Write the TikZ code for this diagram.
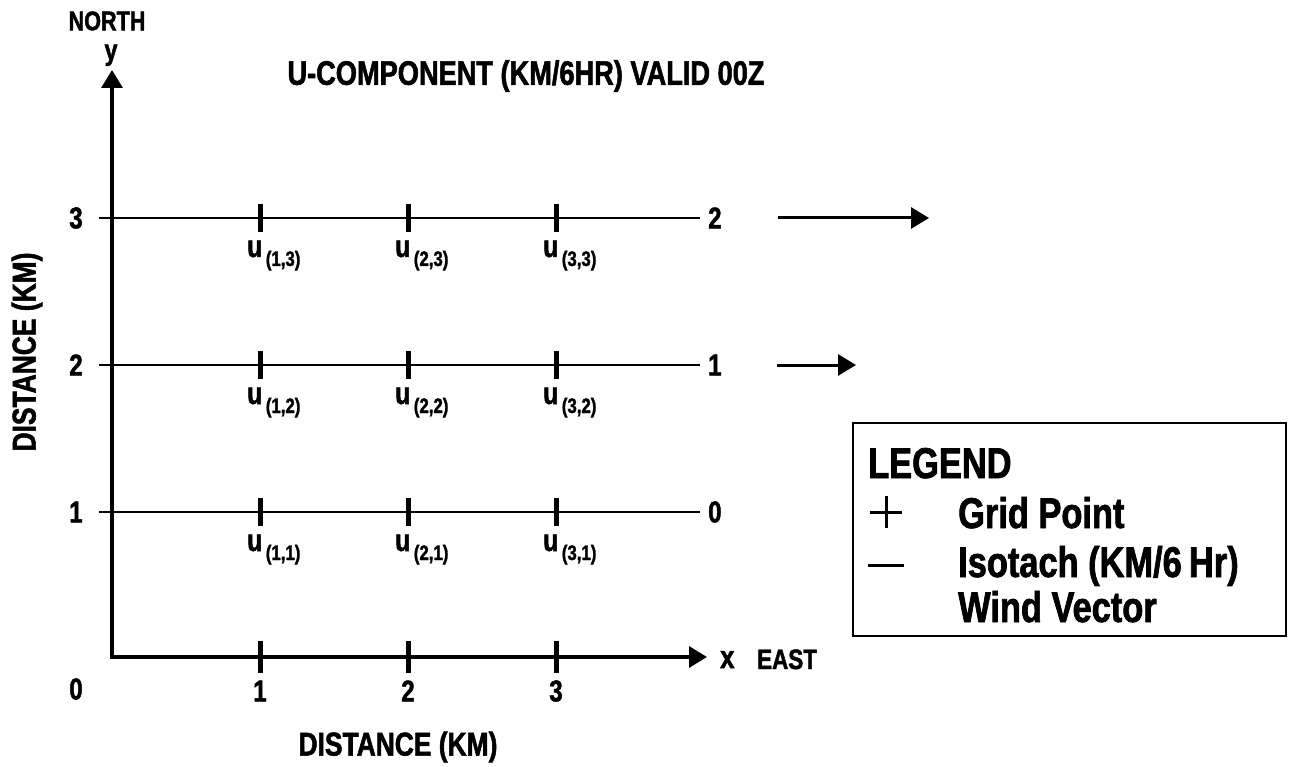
\documentclass[tikz,border=0pt]{standalone}
\usepackage{fontspec}
\setmainfont[FakeStretch=0.8,FakeBold=1.6]{Liberation Sans}
\usepackage{tikz}
\usetikzlibrary{arrows.meta}

\newcommand{\fsz}[1]{\fontsize{#1}{#1}\selectfont}

\tikzset{
    axisline/.style={line width=3.3pt,{Triangle[length=18pt,width=21pt]}-{Triangle[length=18pt,width=21pt]}},
    isoline/.style={line width=2.9pt},
    gridtick/.style={line width=5pt},
    windvec/.style={line width=3pt,-{Triangle[length=18pt,width=21pt]}},
    lbl/.style={font=\bfseries\fsz{30},inner sep=0pt},
    ulbl/.style={font=\bfseries\fsz{31},inner sep=0pt,anchor=base west},
}

\begin{document}
\begin{tikzpicture}[x=1pt,y=-1pt]
    \useasboundingbox (0,0) rectangle (1292,767);

    % axes
    \coordinate (ytip) at (112,70);
    \coordinate (xtip) at (707,657);
    \draw[axisline] (ytip) |- (xtip);
    \node[lbl,font=\bfseries\fsz{27}] (north) at (107,21) {NORTH};
    \node[lbl,font=\bfseries\fsz{29},anchor=base] (ylab) at (111,60) {y};
    \node[lbl,font=\bfseries\fsz{32},anchor=base west] (xlab) at (720,668) {x};
    \node[lbl,font=\bfseries\fsz{28},anchor=base west] (east) at (757,669) {EAST};
    \node[lbl,font=\bfseries\fsz{33},rotate=90] (ydist) at (27,352) {DISTANCE (KM)};
    \node[lbl,font=\bfseries\fsz{33}] (xdist) at (398,747) {DISTANCE (KM)};
    \node[lbl,font=\bfseries\fsz{34}] (title) at (526,76) {U-COMPONENT (KM/6HR) VALID 00Z};
    \node[lbl] (zero) at (76,689) {0};

    % ticks on the x axis
    \foreach \c/\xx in {1/260,2/408,3/556}{
        \coordinate (xt\c) at (\xx,657);
        \draw[gridtick] ([yshift=16pt]xt\c) -- ([yshift=-16pt]xt\c);
        \node[lbl] (xn\c) at (\xx,691) {\c};
    }

    % isotachs with grid points
    \foreach \r/\yy/\v in {1/512/0,2/365/1,3/218/2}{
        \coordinate (w\r) at (99,\yy);
        \coordinate (e\r) at (700,\yy);
        \draw[isoline] (w\r) -- (e\r);
        \node[lbl] (yn\r) at (76,\yy) {\r};
        \node[lbl,anchor=west] (iso\r) at (708,\yy) {\v};
        \foreach \c/\xx in {1/260,2/408,3/556}{
            \coordinate (g\c\r) at (\xx,\yy);
            \draw[gridtick] ([yshift=14pt]g\c\r) -- ([yshift=-14pt]g\c\r);
            \node[ulbl] (u\c\r) at (\xx-13,\yy+39)
                {u\raisebox{-9pt}{\fsz{21}\,(\c,\r)}};
        }
    }

    % wind vectors
    \coordinate (wa3) at (778,218);
    \coordinate (wb3) at (929,218);
    \coordinate (wa2) at (777,365);
    \coordinate (wb2) at (856,365);
    \draw[windvec] (wa3) -- (wb3);
    \draw[windvec] (wa2) -- (wb2);

    % legend
    \node[draw,line width=2.6pt,minimum width=433pt,minimum height=213pt,inner sep=0pt]
        (legend) at (1069.5,529.5) {};
    \node[lbl,font=\bfseries\fsz{43},anchor=base west] (legtitle) at (868,478) {LEGEND};
    \node[lbl,font=\bfseries\fsz{43},anchor=base west] (leg1) at (958,528) {Grid Point};
    \node[lbl,font=\bfseries\fsz{43},anchor=base west] (leg2) at (958,577) {Isotach (KM/6\,Hr)};
    \node[lbl,font=\bfseries\fsz{43},anchor=base west] (leg3) at (958,622) {Wind Vector};
    \coordinate (plusc) at (886,512);
    \draw[line width=3pt] ([xshift=-16pt]plusc) -- ([xshift=16pt]plusc);
    \draw[line width=3pt] ([yshift=-16pt]plusc) -- ([yshift=16pt]plusc);
    \coordinate (dasha) at (868,565);
    \coordinate (dashb) at (904,565);
    \draw[line width=3pt] (dasha) -- (dashb);
\end{tikzpicture}
\end{document}
